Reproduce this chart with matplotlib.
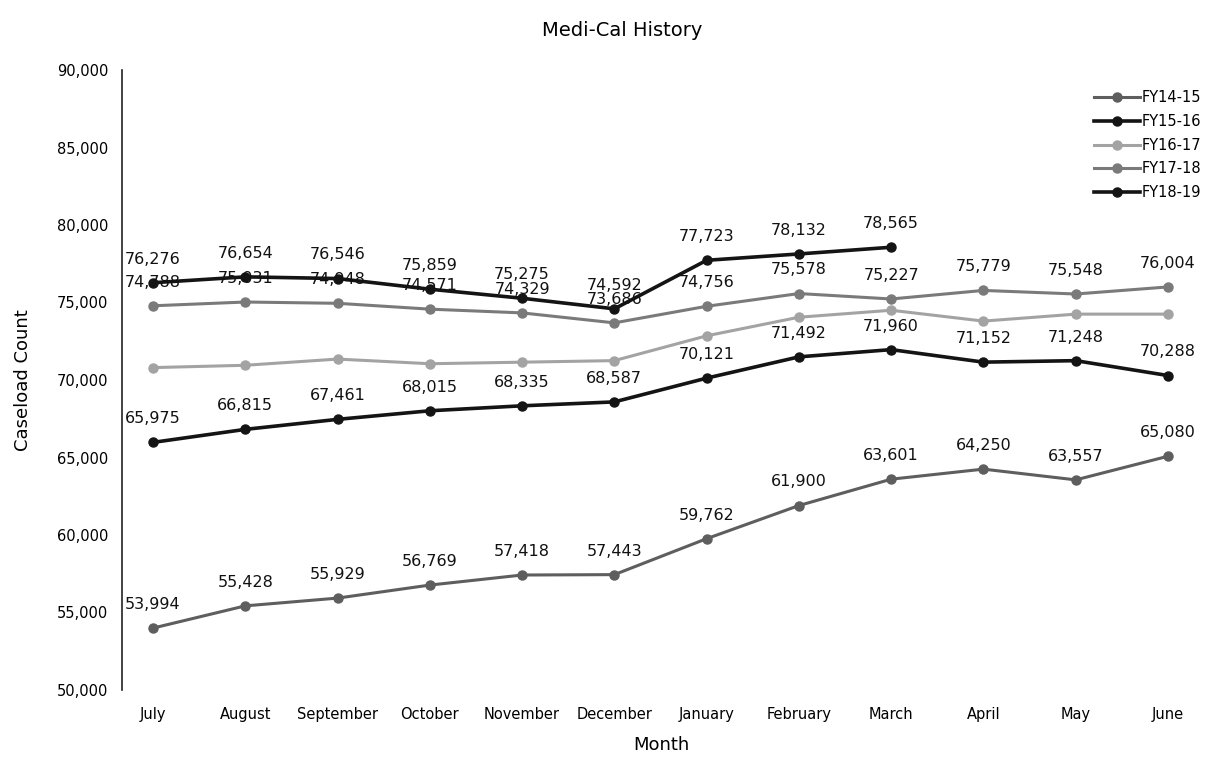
import matplotlib
matplotlib.use("Agg")
import matplotlib.pyplot as plt
import numpy as np

months = ["July", "August", "September", "October", "November", "December",
          "January", "February", "March", "April", "May", "June"]

fy14_15 = [53994, 55428, 55929, 56769, 57418, 57443, 59762, 61900, 63601, 64250, 63557, 65080]
fy15_16 = [65975, 66815, 67461, 68015, 68335, 68587, 70121, 71492, 71960, 71152, 71248, 70288]
fy16_17 = [70800, 70950, 71350, 71050, 71150, 71250, 72850, 74050, 74500, 73800, 74250, 74250]
fy17_18 = [74788, 75031, 74948, 74571, 74329, 73686, 74756, 75578, 75227, 75779, 75548, 76004]
fy18_19 = [76276, 76654, 76546, 75859, 75275, 74592, 77723, 78132, 78565]

series = [
    ("FY14-15", fy14_15, "#5e5e5e", 2.2, True),
    ("FY15-16", fy15_16, "#141414", 2.6, True),
    ("FY16-17", fy16_17, "#a3a3a3", 2.2, False),
    ("FY17-18", fy17_18, "#7a7a7a", 2.2, True),
    ("FY18-19", fy18_19, "#141414", 2.6, True),
]

fig = plt.figure(figsize=(12.08, 7.59), dpi=100)
ax = fig.add_axes([122/1208, 69/759, 1078/1208, 620/759])

x = np.arange(len(months))
for name, vals, col, lw, labeled in series:
    xs = x[:len(vals)]
    ax.plot(xs, vals, color=col, lw=lw, marker="o", markersize=6.5,
            markerfacecolor=col, markeredgecolor=col, label=name, zorder=3)

for name, vals, col, lw, labeled in series:
    if not labeled:
        continue
    for xi, v in zip(x, vals):
        ax.annotate(f"{v:,}", (xi, v), xytext=(0, 17), textcoords="offset points",
                    ha="center", va="center", fontsize=11.5, color="#111111", zorder=5)

ax.set_xlim(-0.336, 11.347)
ax.set_ylim(50000, 90000)
ax.set_yticks(np.arange(50000, 90001, 5000))
ax.set_yticklabels([f"{t:,}" for t in range(50000, 90001, 5000)], fontsize=10.5)
ax.set_xticks(x)
ax.set_xticklabels(months, fontsize=10.5)
ax.tick_params(axis="y", length=0, pad=10)
ax.tick_params(axis="x", length=0, pad=12)

for s in ["top", "right", "bottom"]:
    ax.spines[s].set_visible(False)
ax.spines["left"].set_color("#222222")
ax.spines["left"].set_linewidth(1.2)

ax.set_ylabel("Caseload Count", fontsize=13, labelpad=18)
ax.set_xlabel("Month", fontsize=13, labelpad=10)
fig.text(0.515, 0.96, "Medi-Cal History", ha="center", va="center", fontsize=14)

leg = ax.legend(loc="upper right", bbox_to_anchor=(0.997, 0.885),
                bbox_transform=fig.transFigure, borderaxespad=0, borderpad=0.2,
                frameon=False, fontsize=10.5, handlelength=3.2,
                handletextpad=0.1, labelspacing=0.6)

fig.savefig("out.png", dpi=100)
